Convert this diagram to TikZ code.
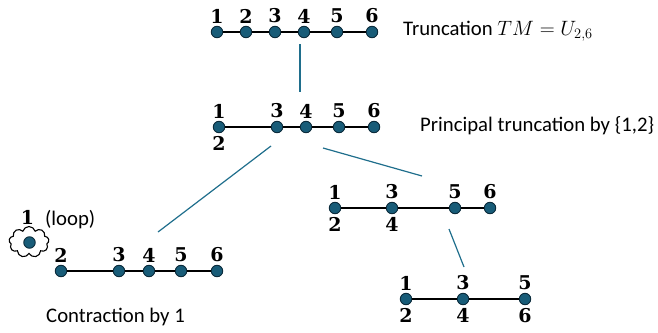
\documentclass[tikz,border=0pt]{standalone}
\usepackage{fontspec}
\usepackage{tikz}
\usetikzlibrary{shapes.symbols}
\newfontfamily\calibri{Carlito}
\newfontfamily\numfont{DejaVu Serif}
\definecolor{vfill}{RGB}{24,92,120}
\definecolor{vline}{RGB}{12,44,60}
\definecolor{conn}{RGB}{31,110,140}

\begin{document}
\begin{tikzpicture}[x=1pt,y=-1pt,
    V/.style={circle, fill=vfill, draw=vline, line width=0.9pt, minimum size=11.5pt, inner sep=0pt},
    E/.style={line width=2.6pt, black},
    C/.style={conn, line width=1.2pt},
    lab/.style={font=\numfont\fontsize{19}{20}\selectfont\bfseries, inner sep=2.5pt},
    T/.style={font=\calibri\fontsize{20.74}{24}\selectfont, inner sep=0pt}]
    \useasboundingbox (0,0) rectangle (658,332);

    % truncation
    \node[V, label={[lab]above:1}] (t1) at (217,32) {};
    \node[V, label={[lab]above:2}] (t2) at (246,32) {};
    \node[V, label={[lab]above:3}] (t3) at (275,32) {};
    \node[V, label={[lab]above:4}] (t4) at (304,32) {};
    \node[V, label={[lab]above:5}] (t5) at (337,32) {};
    \node[V, label={[lab]above:6}] (t6) at (372,32) {};
    \node[T, anchor=base west] (ttext) at (403,35) {Truncation $TM=U_{2,6}$};

    % principal truncation
    \node[V, label={[lab]above:1}, label={[lab]below:2}] (p1) at (219,127) {};
    \node[V, label={[lab]above:3}] (p3) at (277,127) {};
    \node[V, label={[lab]above:4}] (p4) at (306,127) {};
    \node[V, label={[lab]above:5}] (p5) at (339,127) {};
    \node[V, label={[lab]above:6}] (p6) at (374,127) {};
    \node[T, anchor=base west] (ptext) at (420,131) {Principal truncation by \{1,2\}};

    % right branch
    \node[V, label={[lab]above:1}, label={[lab]below:2}] (r1) at (335,208) {};
    \node[V, label={[lab]above:3}, label={[lab]below:4}] (r3) at (392,208) {};
    \node[V, label={[lab]above:5}] (r5) at (455,208) {};
    \node[V, label={[lab]above:6}] (r6) at (490,208) {};

    \node[V, label={[lab]above:1}, label={[lab]below:2}] (s1) at (406,299) {};
    \node[V, label={[lab]above:3}, label={[lab]below:4}] (s3) at (463,299) {};
    \node[V, label={[lab]above:5}, label={[lab]below:6}] (s5) at (525,299) {};

    % contraction
    \node[cloud, cloud puffs=9, cloud ignores aspect, draw, line width=1.1pt,
        minimum width=40pt, minimum height=31pt, inner sep=0pt] (loop) at (29,242) {};
    \node[lab, inner sep=0pt, anchor=south] (l1) at (27.5,225) {1};
    \node[V] (c1) at (29.5,242.5) {};
    \node[T, anchor=base west] (ltext) at (45,225) {(loop)};
    \node[V, label={[lab]above:2}] (c2) at (61,271) {};
    \node[V, label={[lab]above:3}] (c3) at (119,271) {};
    \node[V, label={[lab]above:4}] (c4) at (149,271) {};
    \node[V, label={[lab]above:5}] (c5) at (181,271) {};
    \node[V, label={[lab]above:6}] (c6) at (217,271) {};
    \node[T, anchor=base west] (ctext) at (46,322) {Contraction by 1};

    \draw[E] (t1) -- (t2) -- (t3) -- (t4) -- (t5) -- (t6);
    \draw[E] (p1) -- (p3) -- (p4) -- (p5) -- (p6);
    \draw[E] (r1) -- (r3) -- (r5) -- (r6);
    \draw[E] (s1) -- (s3) -- (s5);
    \draw[E] (c2) -- (c3) -- (c4) -- (c5) -- (c6);

    \coordinate (a0) at (300,44);
    \coordinate (a1) at (300,92);
    \coordinate (b0) at (271,146);
    \coordinate (b1) at (158,232);
    \coordinate (d0) at (323,148);
    \coordinate (d1) at (422,176);
    \coordinate (e0) at (449,229);
    \coordinate (e1) at (464,267);
    \draw[C] (a0) -- (a1);
    \draw[C] (b0) -- (b1);
    \draw[C] (d0) -- (d1);
    \draw[C] (e0) -- (e1);
\end{tikzpicture}
\end{document}
